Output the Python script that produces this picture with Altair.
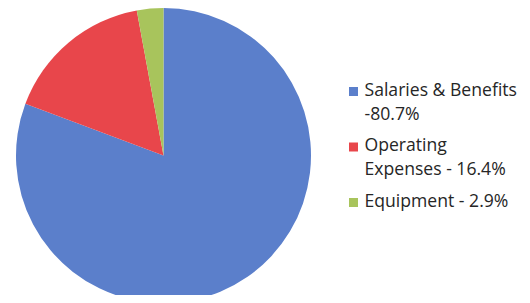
import altair as alt
import pandas as pd

categories = ["Salaries & Benefits", "Operating Expenses", "Equipment"]
shares = [80.7, 16.4, 2.9]
legend_labels = ["Salaries & Benefits\n-80.7%", "Operating\nExpenses - 16.4%", "Equipment - 2.9%"]
colors = ["#5B7FCB", "#E8464B", "#A8C45C"]

df = pd.DataFrame({
    "category": categories,
    "share": shares,
    "order": list(range(len(categories))),
    "label": legend_labels,
})

color_scale = alt.Scale(domain=categories, range=colors)

pie = alt.Chart(df).mark_arc(outerRadius=147.5, stroke=None).encode(
    theta=alt.Theta("share:Q", stack=True),
    order=alt.Order("order:Q"),
    color=alt.Color("category:N", scale=color_scale, legend=None),
    x=alt.value(155.5),
    y=alt.value(147.5),
)

y_enc = alt.Y("order:Q", scale=alt.Scale(domain=[0, 2], range=[87.5, 198.5]), axis=None)

squares = alt.Chart(df).mark_square(size=81, opacity=1, yOffset=-4).encode(
    x=alt.value(345.5),
    y=y_enc,
    color=alt.Color("category:N", scale=color_scale, legend=None),
)

texts = alt.Chart(df).mark_text(
    align="left", baseline="alphabetic", lineBreak="\n", lineHeight=24,
    font="Open Sans", fontSize=17.6, color="#262626",
).encode(
    x=alt.value(356.5),
    y=y_enc,
    text="label:N",
)

chart = alt.layer(pie, squares, texts).properties(
    width=514, height=287, padding=0,
    autosize=alt.AutoSizeParams(type="none"),
).configure_view(stroke=None)

chart.save("out.html", embed_options={"renderer": "svg", "actions": False})
